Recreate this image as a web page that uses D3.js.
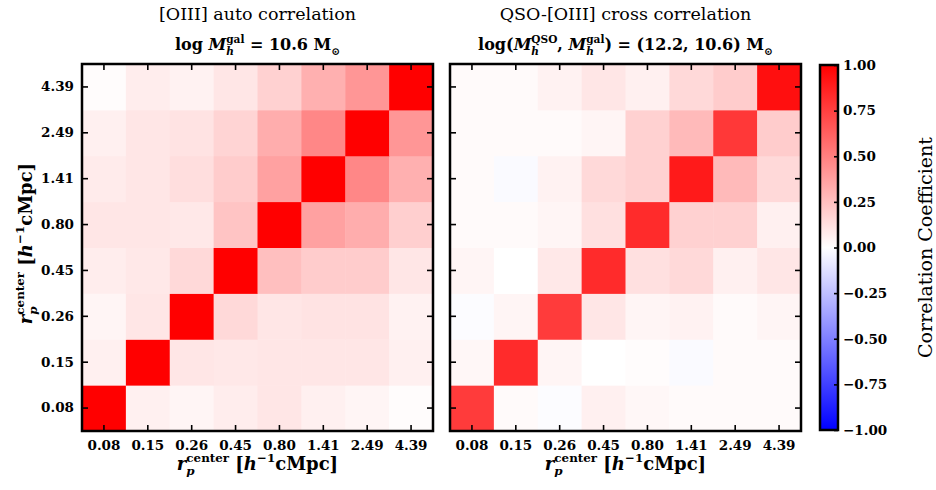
<!DOCTYPE html>
<html><head><meta charset="utf-8">
<script src="https://cdn.jsdelivr.net/npm/d3@7"></script>
<style>
body{margin:0;background:#fff}
text{font-family:"DejaVu Serif","Liberation Serif",serif;font-weight:bold;white-space:pre}
</style>
</head><body><svg></svg><script>
var w = 936
var h = 490

// bin centres, bottom/left first
var bins = ["0.08","0.15","0.26","0.45","0.80","1.41","2.49","4.39"]

// rows go from 0.08 (bottom) up to 4.39 (top)
var autoCorr = [
	[1.00, 0.06, 0.04, 0.07, 0.10, 0.06, 0.04, 0.01],
	[0.06, 1.00, 0.10, 0.09, 0.10, 0.10, 0.10, 0.06],
	[0.04, 0.10, 1.00, 0.15, 0.10, 0.11, 0.11, 0.05],
	[0.07, 0.09, 0.15, 1.00, 0.25, 0.20, 0.20, 0.10],
	[0.10, 0.10, 0.09, 0.23, 1.00, 0.37, 0.32, 0.19],
	[0.08, 0.10, 0.13, 0.20, 0.37, 1.00, 0.47, 0.31],
	[0.06, 0.10, 0.11, 0.17, 0.32, 0.47, 1.00, 0.41],
	[0.01, 0.07, 0.05, 0.10, 0.18, 0.31, 0.41, 1.00]
]

var crossCorr = [
	[0.77, 0.02, -0.01, 0.06, 0.03, 0.02, 0.02, 0.02],
	[0.03, 0.83, 0.04, 0.00, 0.01, -0.02, 0.02, 0.02],
	[-0.01, 0.04, 0.77, 0.10, 0.04, 0.05, 0.02, 0.04],
	[0.04, 0.00, 0.09, 0.83, 0.12, 0.15, 0.06, 0.10],
	[0.02, 0.02, 0.04, 0.12, 0.83, 0.18, 0.18, 0.06],
	[0.02, -0.02, 0.05, 0.15, 0.18, 0.90, 0.27, 0.15],
	[0.02, 0.02, 0.02, 0.04, 0.18, 0.27, 0.78, 0.20],
	[0.02, 0.02, 0.05, 0.10, 0.06, 0.15, 0.20, 0.94]
]

var cbarTicks = [1, 0.75, 0.5, 0.25, 0, -0.25, -0.5, -0.75, -1]

var panelTop = 64
var panelH = 367
var panelW = 351
var panelLeft = [82, 450]

var svg = d3.select("svg")
	.attr("width", w)
	.attr("height", h)

var color = d3.scaleLinear()
	.domain([-1, 0, 1])
	.range(["#0000ff", "#ffffff", "#ff0000"])

var x = d3.scaleBand().domain(bins).range([0, panelW])
var y = d3.scaleBand().domain(bins).range([panelH, 0])

// text with italic / sub / sup pieces, like the mathtext labels
function rich(g, parts, size){
	var txt = g.append("text").attr("font-size", size)
	var shift = 0
	var lastLen = 0
	parts.forEach(function(p){
		var ts = txt.append("tspan").text(p.t)
		if(p.i) ts.attr("font-style", "italic")
		var target = 0
		if(p.s == "sup") target = -0.46*size
		if(p.s == "sub") target = 0.3*size
		ts.attr("dy", target - shift)
		shift = target
		if(p.s) ts.attr("font-size", size*0.66)
		if(p.stack) ts.attr("dx", -lastLen)
		lastLen = ts.node().getComputedTextLength()
	})
	if(shift != 0) txt.append("tspan").attr("dy", -shift).text("")
	return txt
}

var rpLabel = [
	{t:"r", i:true},
	{t:"p", i:true, s:"sub"},
	{t:"center", s:"sup", stack:true},
	{t:" ["},
	{t:"h", i:true},
	{t:"−1", s:"sup"},
	{t:"cMpc]"}
]

var titles = [
	[[{t:"[OIII] auto correlation"}],
	 [{t:"log "}, {t:"M", i:true}, {t:"h", i:true, s:"sub"}, {t:"gal", s:"sup", stack:true},
	  {t:" = 10.6 M"}, {t:"⊙", s:"sub"}]],
	[[{t:"QSO-[OIII] cross correlation"}],
	 [{t:"log("}, {t:"M", i:true}, {t:"h", i:true, s:"sub"}, {t:"QSO", s:"sup", stack:true},
	  {t:", "}, {t:"M", i:true}, {t:"h", i:true, s:"sub"}, {t:"gal", s:"sup", stack:true},
	  {t:") = (12.2, 10.6) M"}, {t:"⊙", s:"sub"}]]
]

var matrices = [autoCorr, crossCorr]

matrices.forEach(function(mat, k){
	var g = svg.append("g")
		.attr("transform", "translate(" + panelLeft[k] + "," + panelTop + ")")

	var cells = []
	mat.forEach(function(row, j){
		row.forEach(function(v, i){
			cells.push({xi: bins[i], yi: bins[j], v: v})
		})
	})

	g.selectAll(".cell")
		.data(cells)
		.enter().append("rect")
		.attr("x", function(d){ return x(d.xi) })
		.attr("y", function(d){ return y(d.yi) })
		.attr("width", x.bandwidth() + 0.5)
		.attr("height", y.bandwidth() + 0.5)
		.attr("fill", function(d){ return color(d.v) })

	var ax = g.append("g")
		.attr("transform", "translate(0," + panelH + ")")
		.call(d3.axisBottom(x).tickSizeInner(-6).tickSizeOuter(0).tickPadding(9))
	ax.selectAll("text").attr("font-size", 13.5).attr("fill", "#000")

	g.append("g").call(d3.axisTop(x).tickSizeInner(-6).tickSizeOuter(0).tickFormat(""))
	g.append("g").attr("transform", "translate(" + panelW + ",0)")
		.call(d3.axisRight(y).tickSizeInner(-6).tickSizeOuter(0).tickFormat(""))

	if(k == 0){
		var ay = g.append("g")
			.call(d3.axisLeft(y).tickSizeInner(-6).tickSizeOuter(0).tickPadding(8))
		ay.selectAll("text").attr("font-size", 13.5).attr("fill", "#000")
	} else {
		g.append("g").call(d3.axisLeft(y).tickSizeInner(-6).tickSizeOuter(0).tickFormat(""))
	}

	g.selectAll(".domain").remove()
	g.selectAll(".tick line").attr("stroke", "#000").attr("stroke-width", 1.6)
	g.selectAll("g").attr("font-family", null)

	g.append("rect")
		.attr("width", panelW)
		.attr("height", panelH)
		.attr("fill", "none")
		.attr("stroke", "#000")
		.attr("stroke-width", 2.5)

	rich(g, titles[k][0], 17.5).attr("x", panelW/2).attr("y", -44)
		.attr("text-anchor", "middle").style("font-weight", "normal")
	rich(g, titles[k][1], 16).attr("x", panelW/2).attr("y", -14).attr("text-anchor", "middle")

	rich(g, rpLabel, 18).attr("x", panelW/2).attr("y", panelH + 39).attr("text-anchor", "middle")
})

// y label
rich(svg.append("g").attr("transform", "translate(32," + (panelTop + panelH/2 - 4) + ") rotate(-90)"),
	rpLabel, 18).attr("text-anchor", "middle")

// colorbar
var cbX = 820
var cbW = 18
var cbY = d3.scaleLinear().domain([-1, 1]).range([panelTop + panelH - 1, panelTop + 1])

var grad = svg.append("defs").append("linearGradient")
	.attr("id", "cbGrad")
	.attr("x1", 0).attr("y1", 1).attr("x2", 0).attr("y2", 0)
grad.selectAll("stop")
	.data(color.domain())
	.enter().append("stop")
	.attr("offset", function(d){ return (d + 1)/2 })
	.attr("stop-color", function(d){ return color(d) })

svg.append("rect")
	.attr("x", cbX)
	.attr("y", cbY(1))
	.attr("width", cbW)
	.attr("height", cbY(-1) - cbY(1))
	.attr("fill", "url(#cbGrad)")
	.attr("stroke", "#000")
	.attr("stroke-width", 2.5)

var cbAxis = svg.append("g")
	.attr("transform", "translate(" + (cbX + cbW) + ",0)")
	.call(d3.axisRight(cbY).tickValues(cbarTicks).tickFormat(d3.format(".2f"))
		.tickSizeInner(-4).tickSizeOuter(0).tickPadding(5))
cbAxis.attr("font-family", null)
cbAxis.select(".domain").remove()
cbAxis.selectAll(".tick line").attr("stroke", "#000").attr("stroke-width", 1.6)
cbAxis.selectAll("text").attr("font-size", 13.5).attr("fill", "#000")

svg.append("text")
	.attr("transform", "translate(932," + (panelTop + panelH/2) + ") rotate(-90)")
	.attr("text-anchor", "middle")
	.attr("font-size", 19)
	.style("font-weight", "normal")
	.text("Correlation Coefficient")
</script></body></html>
